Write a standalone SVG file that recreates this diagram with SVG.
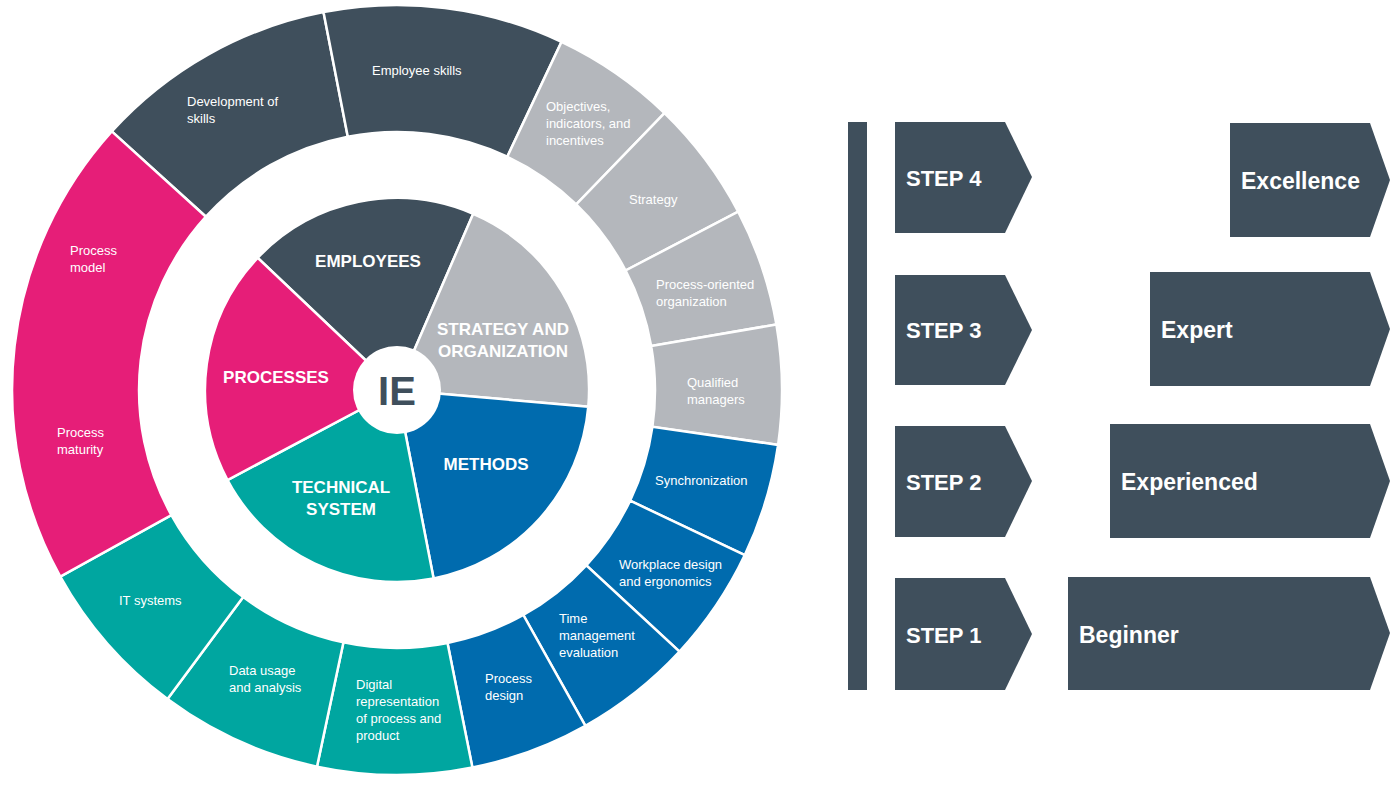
<svg xmlns="http://www.w3.org/2000/svg" width="1400" height="785" viewBox="0 0 1400 785">
<style>
.s{stroke:#fff;stroke-width:2.5}
.d{fill:#3f4f5c}.p{fill:#e61e78}.t{fill:#00a6a0}.b{fill:#006bae}.g{fill:#b4b7bc}
.l{font-family:"Liberation Sans",Arial,sans-serif;font-size:13px;fill:#fff}
.c{font-family:"Liberation Sans",Arial,sans-serif;font-size:17px;font-weight:bold;fill:#fff}
.st{font-family:"Liberation Sans",Arial,sans-serif;font-size:22px;font-weight:bold;fill:#fff}
.lv{font-family:"Liberation Sans",Arial,sans-serif;font-size:23px;font-weight:bold;fill:#fff}
</style>
<rect width="1400" height="785" fill="#fff"/>
<g id="outer-ring">
<g id="development"><path class="d s" d="M111.8,131.4 A385,385 0 0 1 323.5,12.1 L347.8,136.7 A258,258 0 0 0 205.9,216.7Z"/><text class="l" x="187" y="106">Development of</text><text class="l" x="187" y="123">skills</text></g>
<g id="employee-skills"><path class="d s" d="M323.5,12.1 A385,385 0 0 1 561.5,41.9 L507.3,156.7 A258,258 0 0 0 347.8,136.7Z"/><text class="l" x="372" y="75">Employee skills</text></g>
<g id="objectives"><path class="g s" d="M561.5,41.9 A385,385 0 0 1 664.5,113.1 L576.2,204.4 A258,258 0 0 0 507.3,156.7Z"/><text class="l" x="546" y="111">Objectives,</text><text class="l" x="546" y="128">indicators, and</text><text class="l" x="546" y="145">incentives</text></g>
<g id="strategy"><path class="g s" d="M664.5,113.1 A385,385 0 0 1 738.2,211.6 L625.6,270.5 A258,258 0 0 0 576.2,204.4Z"/><text class="l" x="629" y="204">Strategy</text></g>
<g id="process-oriented"><path class="g s" d="M738.2,211.6 A385,385 0 0 1 776.4,324.5 L651.2,346.1 A258,258 0 0 0 625.6,270.5Z"/><text class="l" x="656" y="289">Process-oriented</text><text class="l" x="656" y="306">organization</text></g>
<g id="qualified"><path class="g s" d="M776.4,324.5 A385,385 0 0 1 778.1,444.9 L652.4,426.8 A258,258 0 0 0 651.2,346.1Z"/><text class="l" x="687" y="387">Qualified</text><text class="l" x="687" y="404">managers</text></g>
<g id="synchronization"><path class="b s" d="M778.1,444.9 A385,385 0 0 1 744.8,555.1 L630.1,500.7 A258,258 0 0 0 652.4,426.8Z"/><text class="l" x="655" y="485">Synchronization</text></g>
<g id="workplace"><path class="b s" d="M744.8,555.1 A385,385 0 0 1 679.5,651.6 L586.3,565.3 A258,258 0 0 0 630.1,500.7Z"/><text class="l" x="619" y="569">Workplace design</text><text class="l" x="619" y="586">and ergonomics</text></g>
<g id="time"><path class="b s" d="M679.5,651.6 A385,385 0 0 1 585.4,725.8 L523.3,615.0 A258,258 0 0 0 586.3,565.3Z"/><text class="l" x="559" y="623">Time</text><text class="l" x="559" y="640">management</text><text class="l" x="559" y="657">evaluation</text></g>
<g id="process-design"><path class="b s" d="M585.4,725.8 A385,385 0 0 1 472.4,767.5 L447.5,643.0 A258,258 0 0 0 523.3,615.0Z"/><text class="l" x="485" y="683">Process</text><text class="l" x="485" y="700">design</text></g>
<g id="digital"><path class="t s" d="M472.4,767.5 A385,385 0 0 1 317.0,766.6 L343.4,642.4 A258,258 0 0 0 447.5,643.0Z"/><text class="l" x="356" y="689">Digital</text><text class="l" x="356" y="706">representation</text><text class="l" x="356" y="723">of process and</text><text class="l" x="356" y="740">product</text></g>
<g id="data"><path class="t s" d="M317.0,766.6 A385,385 0 0 1 167.5,699.1 L243.2,597.1 A258,258 0 0 0 343.4,642.4Z"/><text class="l" x="229" y="675">Data usage</text><text class="l" x="229" y="692">and analysis</text></g>
<g id="it"><path class="t s" d="M167.5,699.1 A385,385 0 0 1 60.3,576.6 L171.4,515.1 A258,258 0 0 0 243.2,597.1Z"/><text class="l" x="119" y="605">IT systems</text></g>
<g id="process-model"><path class="p s" d="M60.3,576.6 A385,385 0 0 1 111.8,131.4 L205.9,216.7 A258,258 0 0 0 171.4,515.1Z"/><text class="l" x="70" y="255">Process</text><text class="l" x="70" y="272">model</text><text class="l" x="57" y="437">Process</text><text class="l" x="57" y="454">maturity</text></g>
</g>
<g id="inner-pie">
<g id="employees"><path class="d s" d="M397,390 L257.7,257.8 A192,192 0 0 1 473.2,213.8Z"/><text class="c" x="368" y="267" text-anchor="middle">EMPLOYEES</text></g>
<g id="strategy-org"><path class="g s" d="M397,390 L473.2,213.8 A192,192 0 0 1 588.3,406.7Z"/><text class="c" x="503" y="335" text-anchor="middle">STRATEGY AND</text><text class="c" x="503" y="357" text-anchor="middle">ORGANIZATION</text></g>
<g id="methods"><path class="b s" d="M397,390 L588.3,406.7 A192,192 0 0 1 433.6,578.5Z"/><text class="c" x="486" y="470" text-anchor="middle">METHODS</text></g>
<g id="technical"><path class="t s" d="M397,390 L433.6,578.5 A192,192 0 0 1 227.5,480.1Z"/><text class="c" x="341" y="493" text-anchor="middle">TECHNICAL</text><text class="c" x="341" y="515" text-anchor="middle">SYSTEM</text></g>
<g id="processes"><path class="p s" d="M397,390 L227.5,480.1 A192,192 0 0 1 257.7,257.8Z"/><text class="c" x="276" y="383" text-anchor="middle">PROCESSES</text></g>
<g id="ie"><circle cx="397" cy="390" r="44" fill="#fff"/><text x="397" y="405" text-anchor="middle" font-family="Liberation Sans,Arial,sans-serif" font-size="40" font-weight="bold" fill="#3f4f5c">IE</text></g>
</g>
<g id="bar"><rect class="d" x="848" y="122" width="19" height="568"/></g>
<g id="step4"><path class="d" d="M895,122 H1005 L1032,177 L1005,233 H895Z"/><text class="st" x="906" y="186">STEP 4</text></g>
<g id="step3"><path class="d" d="M895,275 H1005 L1032,330 L1005,385 H895Z"/><text class="st" x="906" y="338">STEP 3</text></g>
<g id="step2"><path class="d" d="M895,426 H1005 L1032,481 L1005,537 H895Z"/><text class="st" x="906" y="490">STEP 2</text></g>
<g id="step1"><path class="d" d="M895,578 H1005 L1032,634 L1005,690 H895Z"/><text class="st" x="906" y="643">STEP 1</text></g>
<g id="excellence"><path class="d" d="M1230,123 H1370 L1390,180 L1370,237 H1230Z"/><text class="lv" x="1241" y="189">Excellence</text></g>
<g id="expert"><path class="d" d="M1150,272 H1370 L1390,329 L1370,386 H1150Z"/><text class="lv" x="1161" y="338">Expert</text></g>
<g id="experienced"><path class="d" d="M1110,424 H1370 L1390,481 L1370,538 H1110Z"/><text class="lv" x="1121" y="490">Experienced</text></g>
<g id="beginner"><path class="d" d="M1068,577 H1370 L1390,633 L1370,690 H1068Z"/><text class="lv" x="1079" y="643">Beginner</text></g>
<g id="connectors"/>
</svg>
